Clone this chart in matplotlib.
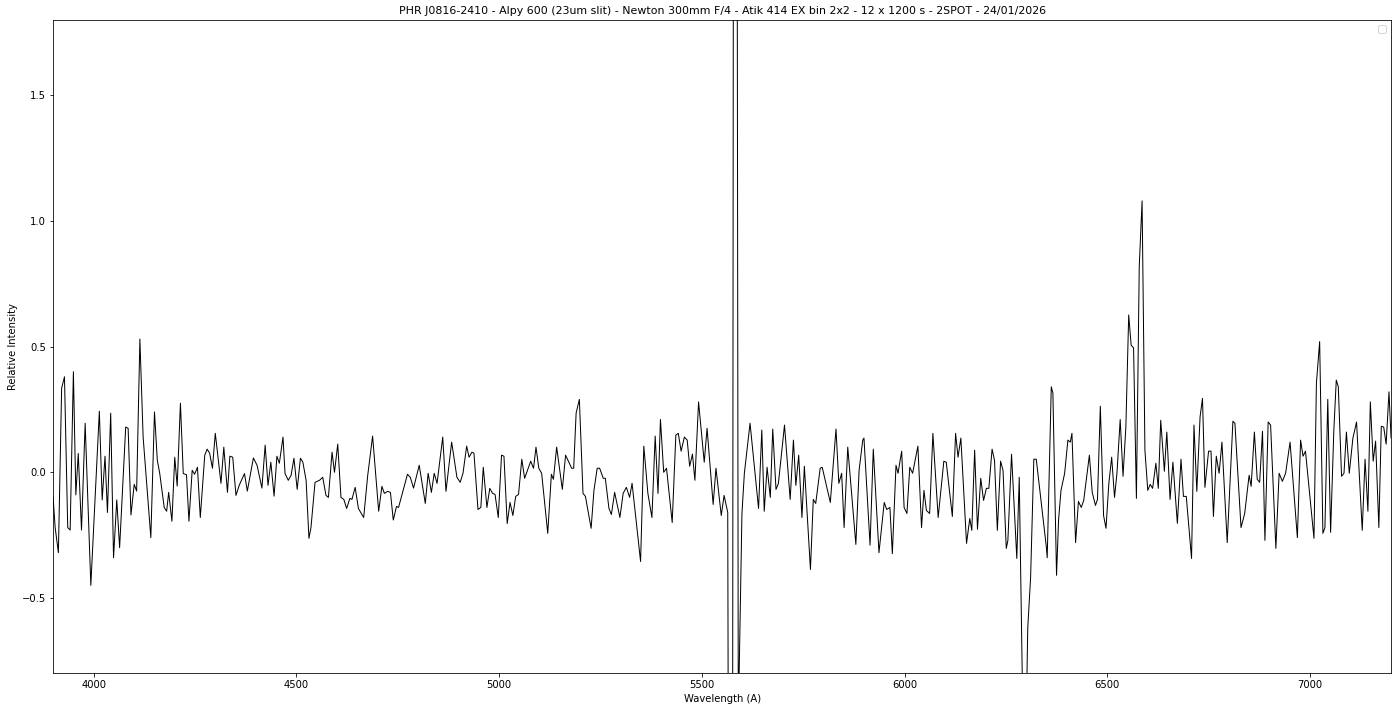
import matplotlib
matplotlib.use('Agg')
import matplotlib.pyplot as plt

# wavelength (A) and relative intensity
wave = [3900, 3905, 3913, 3921, 3928, 3936, 3942, 3950, 3956, 3962, 3970, 3979, 3993,
        4014, 4021, 4028, 4034, 4042, 4049, 4057, 4064, 4079, 4085, 4092, 4100, 4106,
        4114, 4122, 4141, 4150, 4157, 4163, 4174, 4180, 4185, 4193, 4200, 4206, 4214,
        4221, 4229, 4235, 4243, 4249, 4256, 4263, 4274, 4280, 4286, 4293, 4300, 4314,
        4321, 4330, 4336, 4343, 4351, 4359, 4372, 4379, 4394, 4403, 4415, 4423, 4430,
        4437, 4445, 4452, 4458, 4467, 4472, 4480, 4487, 4494, 4502, 4510, 4516, 4524,
        4531, 4536, 4546, 4557, 4565, 4573, 4579, 4588, 4594, 4602, 4610, 4617, 4624,
        4632, 4637, 4645, 4653, 4666, 4676, 4688, 4703, 4711, 4717, 4725, 4732, 4739,
        4747, 4752, 4762, 4774, 4781, 4789, 4803, 4818, 4825, 4833, 4840, 4847, 4861,
        4869, 4883, 4896, 4904, 4911, 4920, 4926, 4933, 4938, 4948, 4955, 4961, 4970,
        4977, 4984, 4990, 4998, 5006, 5012, 5020, 5027, 5034, 5041, 5048, 5056, 5063,
        5078, 5085, 5091, 5098, 5105, 5120, 5129, 5134, 5142, 5156, 5164, 5179, 5184,
        5190, 5198, 5207, 5213, 5227, 5234, 5242, 5248, 5257, 5262, 5271, 5277, 5285,
        5298, 5306, 5314, 5322, 5328, 5349, 5357, 5367, 5377, 5385, 5392, 5398, 5406,
        5413, 5427, 5436, 5442, 5449, 5457, 5464, 5470, 5477, 5483, 5492, 5506, 5513,
        5528, 5535, 5548, 5555, 5564, 5568, 5575, 5580, 5584, 5590, 5599, 5605, 5619,
        5640, 5648, 5654, 5661, 5669, 5675, 5683, 5689, 5704, 5718, 5726, 5732, 5739,
        5747, 5753, 5768, 5775, 5781, 5792, 5797, 5817, 5831, 5838, 5845, 5851, 5860,
        5880, 5888, 5897, 5900, 5915, 5923, 5937, 5950, 5956, 5964, 5970, 5979, 5984,
        5993, 5999, 6006, 6013, 6020, 6033, 6042, 6048, 6054, 6062, 6070, 6083, 6097,
        6103, 6118, 6126, 6132, 6139, 6153, 6161, 6166, 6173, 6180, 6188, 6195, 6202,
        6208, 6216, 6222, 6229, 6237, 6243, 6251, 6255, 6264, 6277, 6283, 6296, 6304,
        6311, 6319, 6325, 6350, 6352, 6362, 6366, 6375, 6380, 6386, 6395, 6403, 6409,
        6413, 6422, 6429, 6436, 6442, 6456, 6463, 6471, 6476, 6483, 6491, 6497, 6504,
        6511, 6518, 6524, 6532, 6539, 6546, 6553, 6559, 6565, 6572, 6579, 6586, 6593,
        6600, 6606, 6612, 6620, 6626, 6632, 6641, 6647, 6655, 6662, 6673, 6682, 6688,
        6695, 6708, 6714, 6721, 6729, 6735, 6741, 6750, 6756, 6762, 6769, 6776, 6783,
        6796, 6810, 6815, 6830, 6839, 6850, 6855, 6863, 6870, 6876, 6883, 6889, 6897,
        6903, 6916, 6924, 6932, 6940, 6951, 6969, 6977, 6983, 6989, 7010, 7016, 7024,
        7032, 7037, 7044, 7051, 7059, 7065, 7070, 7078, 7084, 7090, 7097, 7106, 7115,
        7129, 7136, 7143, 7149, 7156, 7162, 7170, 7176, 7182, 7188, 7195, 7200, 7205]

flux = [-0.10, -0.22, -0.32, 0.335, 0.38, -0.22, -0.23, 0.40, -0.09, 0.075, -0.23, 0.195, -0.45,
        0.243, -0.11, 0.064, -0.16, 0.235, -0.34, -0.11, -0.30, 0.18, 0.175, -0.17, -0.048, -0.075,
        0.53, 0.14, -0.26, 0.24, 0.048, -0.005, -0.14, -0.155, -0.08, -0.195, 0.06, -0.055, 0.275,
        -0.005, -0.01, -0.195, 0.008, -0.008, 0.02, -0.18, 0.068, 0.092, 0.076, 0.016, 0.155, -0.044,
        0.10, -0.08, 0.064, 0.06, -0.092, -0.052, -0.005, -0.075, 0.057, 0.028, -0.063, 0.108, -0.052,
        0.04, -0.095, 0.064, 0.036, 0.14, -0.005, -0.032, -0.012, 0.056, -0.068, 0.056, 0.04, -0.032,
        -0.263, -0.22, -0.04, -0.032, -0.02, -0.092, -0.10, 0.08, 0.0, 0.112, -0.10, -0.108, -0.144,
        -0.104, -0.108, -0.06, -0.144, -0.18, -0.012, 0.144, -0.155, -0.056, -0.084, -0.076, -0.08, -0.19,
        -0.136, -0.14, -0.08, -0.008, -0.02, -0.063, 0.028, -0.124, -0.004, -0.08, -0.004, -0.044, 0.14,
        -0.076, 0.12, -0.02, -0.04, -0.004, 0.104, 0.06, 0.08, 0.076, -0.148, -0.14, 0.02, -0.14,
        -0.064, -0.084, -0.088, -0.18, 0.068, 0.064, -0.204, -0.12, -0.172, -0.096, -0.088, 0.052, -0.024,
        0.044, 0.016, 0.10, 0.016, -0.004, -0.243, -0.008, -0.028, 0.10, -0.068, 0.068, 0.016, 0.016,
        0.235, 0.29, -0.084, -0.096, -0.223, -0.072, 0.016, 0.016, -0.024, -0.024, -0.144, -0.168, -0.08,
        -0.18, -0.084, -0.06, -0.10, -0.044, -0.355, 0.104, -0.084, -0.18, 0.144, -0.084, 0.21, 0.0,
        0.016, -0.20, 0.148, 0.155, 0.084, 0.14, 0.128, 0.024, 0.072, -0.032, 0.28, 0.04, 0.175,
        -0.128, 0.016, -0.172, -0.092, -0.16, -3.0, -3.0, 6.0, 6.0, -1.0, -0.165, -0.004, 0.195,
        -0.144, 0.168, -0.155, 0.02, -0.10, 0.172, -0.068, -0.044, 0.188, -0.108, 0.128, -0.052, 0.068,
        -0.18, 0.024, -0.387, -0.108, -0.124, 0.016, 0.02, -0.12, 0.172, -0.044, -0.004, -0.22, 0.10,
        -0.287, 0.008, 0.128, 0.136, -0.29, 0.092, -0.32, -0.12, -0.148, -0.14, -0.324, 0.028, -0.004,
        0.084, -0.14, -0.164, 0.02, -0.004, 0.104, -0.22, -0.072, -0.152, -0.164, 0.155, -0.18, 0.044,
        0.04, -0.176, 0.155, 0.06, 0.136, -0.283, -0.184, -0.231, 0.088, -0.227, -0.024, -0.112, -0.064,
        -0.064, 0.092, 0.048, -0.231, 0.044, 0.008, -0.303, -0.271, 0.072, -0.343, -0.02, -1.4, -0.62,
        -0.42, 0.052, 0.052, -0.30, -0.34, 0.34, 0.315, -0.41, -0.19, -0.072, -0.004, 0.128, 0.12,
        0.155, -0.28, -0.116, -0.14, -0.112, 0.068, -0.08, -0.132, -0.108, 0.263, -0.172, -0.223, -0.044,
        0.06, -0.10, -0.004, 0.21, -0.016, 0.18, 0.626, 0.506, 0.495, -0.104, 0.818, 1.08, 0.088,
        -0.072, -0.048, -0.064, 0.036, -0.064, 0.207, 0.004, 0.16, -0.108, 0.04, -0.203, 0.052, -0.096,
        -0.096, -0.343, 0.188, -0.076, 0.22, 0.294, -0.06, 0.084, 0.084, -0.176, 0.064, -0.004, 0.12,
        -0.28, 0.203, 0.195, -0.22, -0.165, -0.012, -0.056, 0.16, -0.028, -0.04, 0.163, -0.271, 0.20,
        0.188, -0.303, -0.004, -0.036, -0.004, 0.12, -0.26, 0.128, 0.064, 0.084, -0.263, 0.355, 0.52,
        -0.243, -0.22, 0.29, -0.239, 0.168, 0.367, 0.34, -0.016, -0.004, 0.16, -0.004, 0.136, 0.20,
        -0.231, 0.052, -0.155, 0.28, 0.044, 0.124, -0.22, 0.183, 0.18, 0.112, 0.32, 0.14, 0.10]

title = 'PHR J0816-2410 - Alpy 600 (23um slit) - Newton 300mm F/4 - Atik 414 EX bin 2x2 - 12 x 1200 s - 2SPOT - 24/01/2026'

# 72 dpi so the default 10pt text comes out the same size as the reference
fig, ax = plt.subplots(figsize=(1398 / 72, 711 / 72), dpi=72)
fig.subplots_adjust(left=0.038, right=0.995, bottom=0.053, top=0.972)

ax.plot(wave, flux, color='black', linewidth=1.0)
ax.set_xlim(3900, 7200)
ax.set_ylim(-0.8, 1.8)
ax.set_yticks([-0.5, 0.0, 0.5, 1.0, 1.5])
ax.set_xlabel('Wavelength (A)')
ax.set_ylabel('Relative Intensity')
ax.set_title(title, fontsize=11)
ax.legend(loc='upper right')

plt.savefig('out.png', dpi=72)
